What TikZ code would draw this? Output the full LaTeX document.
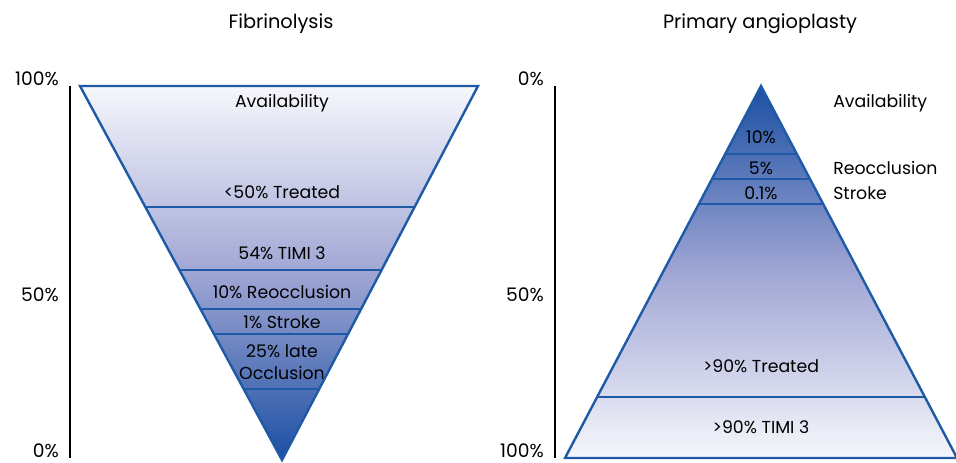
\documentclass[tikz,border=0pt]{standalone}
\usepackage{fontspec}
\setmainfont{Poppins}
\usetikzlibrary{calc}
\definecolor{edgeblue}{HTML}{1F5AA6}
\definecolor{pale}{HTML}{F6F7FC}
\definecolor{lavender}{HTML}{A0A6D4}
\definecolor{deepblue}{HTML}{1B4FA3}
\begin{document}
\begin{tikzpicture}[x=0.75pt,y=-0.75pt]
  \tikzset{ lbl/.style={font=\fontsize{13}{16.5}\selectfont,inner sep=0pt},
    ttl/.style={font=\fontsize{14.5}{16}\selectfont,inner sep=0pt},
    pct/.style={font=\fontsize{14}{16}\selectfont,inner sep=0pt,anchor=base east},
    outline/.style={edgeblue,line width=1.8pt,line join=miter},
    band/.style={edgeblue,line width=1.4pt},
    axis/.style={black,line width=2pt},
  }
  \useasboundingbox (0,0) rectangle (956,463);
  \clip (0,0) rectangle (956,463);

  % fibrinolysis funnel
  \coordinate (TL) at (80,86);
  \coordinate (TR) at (478,86);
  \coordinate (A) at (282,460);
  \fill[top color=pale,bottom color=deepblue,middle color=lavender] (TL) -- (TR) -- (A) -- cycle;
  \foreach \t in {0.3235,0.492,0.596,0.663,0.810}
    \draw[band] ($(TL)!\t!(A)$) -- ($(TR)!\t!(A)$);
  \draw[outline] (TL) -- (TR) -- (A) -- cycle;

  \node[ttl] (fib) at (281,24) {Fibrinolysis};
  \node[lbl] (avl) at (282,103) {Availability};
  \node[lbl] (trl) at (282,192) {<50\% Treated};
  \node[lbl] (timil) at (282,253) {54\% TIMI 3};
  \node[lbl] (reol) at (282,292) {10\% Reocclusion};
  \node[lbl] (strl) at (282,322) {1\% Stroke};
  \node[lbl,align=center] (latel) at (282,362) {25\% late\\Occlusion};

  \coordinate (axL1) at (70,86);
  \coordinate (axL2) at (70,458);
  \draw[axis] (axL1) -- (axL2);
  \node[pct] (l100) at (59,86) {100\%};
  \node[pct] (l50) at (59,301) {50\%};
  \node[pct] (l0) at (59,457) {0\%};

  % angioplasty pyramid
  \coordinate (P) at (761,86);
  \coordinate (BL) at (565,458);
  \coordinate (BR) at (957,458);
  \fill[top color=deepblue,bottom color=pale,middle color=lavender] (P) -- (BR) -- (BL) -- cycle;
  \foreach \t in {0.183,0.25,0.317,0.836}
    \draw[band] ($(P)!\t!(BL)$) -- ($(P)!\t!(BR)$);
  \draw[outline] (P) -- (BR) -- (BL) -- cycle;

  \node[ttl] (pa) at (760,24) {Primary angioplasty};
  \node[lbl] (ten) at (761,137) {10\%};
  \node[lbl] (five) at (761,168) {5\%};
  \node[lbl] (pt1) at (761,193) {0.1\%};
  \node[lbl,anchor=west] (avr) at (833,103) {Availability};
  \node[lbl,anchor=west] (reor) at (833,168) {Reocclusion};
  \node[lbl,anchor=west] (strr) at (833,193) {Stroke};
  \node[lbl] (trr) at (761,366) {>90\% Treated};
  \node[lbl] (timir) at (761,427) {>90\% TIMI 3};

  \coordinate (axR1) at (555,86);
  \coordinate (axR2) at (555,458);
  \draw[axis] (axR1) -- (axR2);
  \node[pct] (r0) at (544,86) {0\%};
  \node[pct] (r50) at (544,301) {50\%};
  \node[pct] (r100) at (544,457) {100\%};
\end{tikzpicture}
\end{document}
